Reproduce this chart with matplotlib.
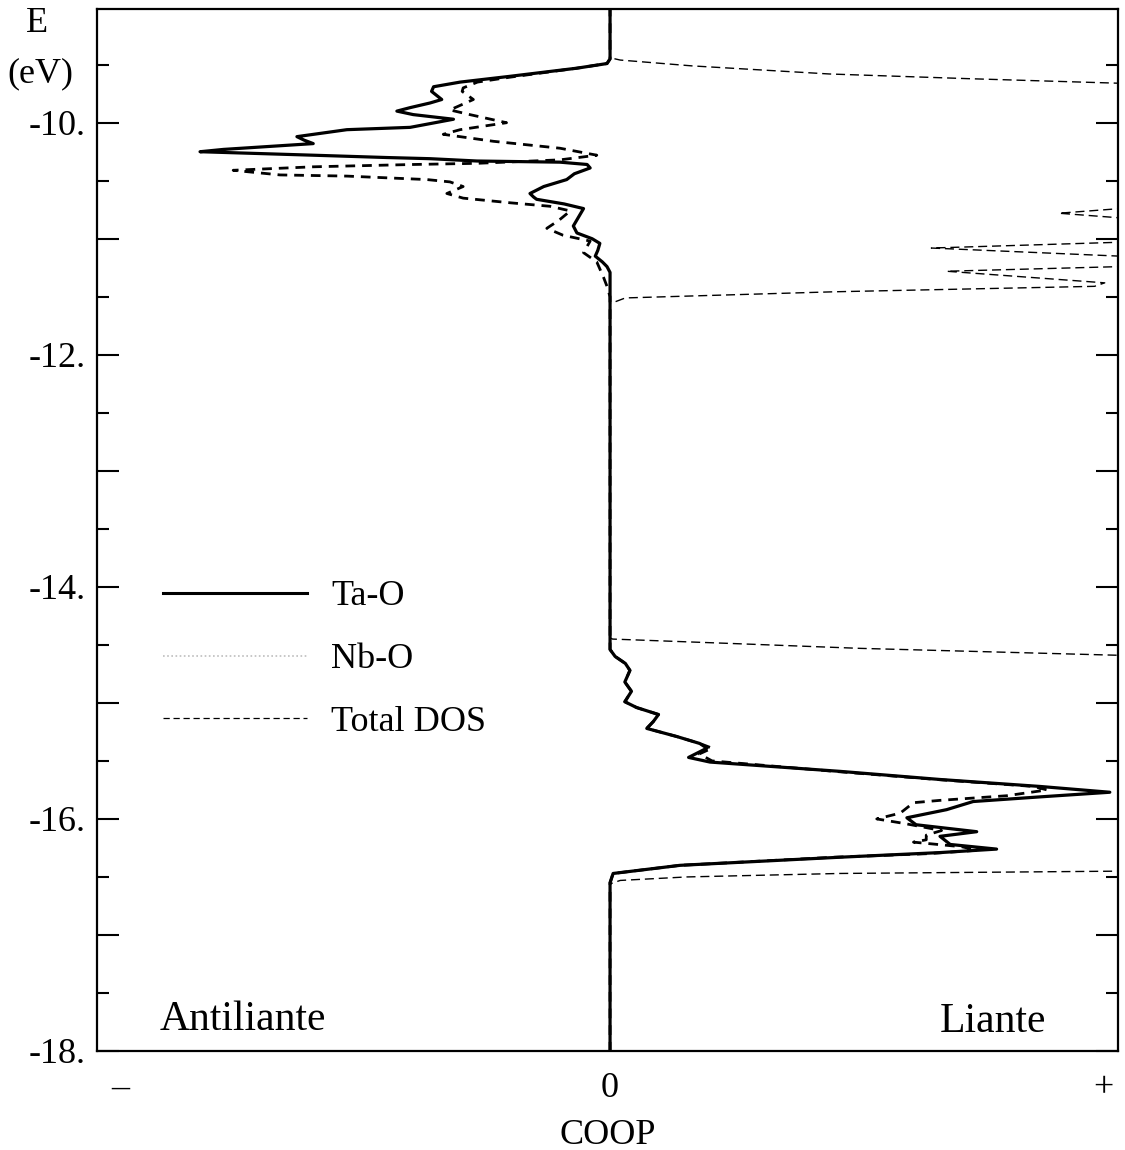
import matplotlib
matplotlib.use("Agg")
import matplotlib.pyplot as plt
from matplotlib.lines import Line2D
from matplotlib.ticker import FixedLocator

plt.rcParams['font.family'] = ['Liberation Serif', 'DejaVu Serif']

# ---------------- data ----------------
# Ta-O COOP: energy (eV) and COOP value (arbitrary units, - antibonding / + bonding)
ta_E = [-9.00, -9.45, -9.49, -9.53, -9.60, -9.65, -9.69, -9.73, -9.80, -9.83, -9.87, -9.90,
        -9.93, -9.97, -10.04, -10.06, -10.12, -10.15, -10.18, -10.23, -10.25, -10.28, -10.30,
        -10.31, -10.33, -10.34, -10.36, -10.39, -10.44, -10.49, -10.55, -10.61, -10.64, -10.66,
        -10.70, -10.74, -10.80, -10.89, -10.95, -11.00, -11.04, -11.10, -11.15, -11.20, -11.24,
        -11.29, -14.54, -14.60, -14.66, -14.72, -14.82, -14.90, -14.99, -15.04, -15.10, -15.16,
        -15.22, -15.29, -15.35, -15.39, -15.47, -15.51, -15.59, -15.66, -15.72, -15.77, -15.81,
        -15.85, -15.92, -15.99, -16.05, -16.11, -16.15, -16.22, -16.26, -16.29, -16.33, -16.40,
        -16.47, -16.55, -18.00]
ta_coop = [0.0, 0.0, -0.006, -0.065, -0.196, -0.294, -0.346, -0.350, -0.330, -0.353, -0.392, -0.418,
           -0.386, -0.307, -0.392, -0.516, -0.614, -0.600, -0.582, -0.758, -0.804, -0.582, -0.438,
           -0.353, -0.261, -0.098, -0.045, -0.039, -0.070, -0.085, -0.130, -0.157, -0.150, -0.144,
           -0.090, -0.052, -0.060, -0.072, -0.065, -0.035, -0.020, -0.024, -0.029, -0.015, -0.006,
           0.0, 0.0, 0.010, 0.030, 0.039, 0.029, 0.042, 0.029, 0.052, 0.095, 0.085,
           0.072, 0.131, 0.176, 0.190, 0.154, 0.196, 0.451, 0.647, 0.843, 0.980, 0.843,
           0.712, 0.660, 0.582, 0.600, 0.719, 0.647, 0.667, 0.758, 0.647, 0.451, 0.137,
           0.006, 0.0, 0.0]

# Nb-O COOP
nb_E = [-9.00, -9.45, -9.49, -9.53, -9.61, -9.65, -9.70, -9.73, -9.80, -9.89, -9.93, -10.00,
        -10.06, -10.10, -10.16, -10.22, -10.28, -10.32, -10.35, -10.36, -10.38, -10.41, -10.45,
        -10.46, -10.49, -10.51, -10.55, -10.61, -10.65, -10.69, -10.72, -10.76, -10.84, -10.91,
        -10.97, -11.02, -11.12, -11.20, -11.33, -11.41, -11.50, -14.54, -14.60, -14.66, -14.72,
        -14.82, -14.90, -14.99, -15.04, -15.10, -15.16, -15.22, -15.29, -15.35, -15.39, -15.44,
        -15.50, -15.59, -15.66, -15.72, -15.75, -15.80, -15.84, -15.86, -15.95, -16.00, -16.04,
        -16.10, -16.14, -16.18, -16.20, -16.24, -16.27, -16.30, -16.33, -16.40, -16.47, -16.55,
        -18.00]
nb_coop = [0.0, 0.0, -0.006, -0.065, -0.200, -0.260, -0.288, -0.290, -0.268, -0.314, -0.275, -0.203,
           -0.294, -0.327, -0.229, -0.098, -0.026, -0.098, -0.261, -0.386, -0.582, -0.739, -0.647,
           -0.516, -0.359, -0.314, -0.288, -0.320, -0.288, -0.196, -0.118, -0.078, -0.100, -0.124,
           -0.092, -0.039, -0.052, -0.026, -0.013, -0.006, 0.0, 0.0, 0.010, 0.030, 0.039,
           0.029, 0.042, 0.029, 0.052, 0.095, 0.085, 0.072, 0.131, 0.176, 0.200, 0.175,
           0.200, 0.440, 0.640, 0.830, 0.857, 0.778, 0.647, 0.595, 0.569, 0.523, 0.578,
           0.650, 0.620, 0.620, 0.595, 0.690, 0.720, 0.620, 0.440, 0.137, 0.006, 0.0,
           0.0]

# Total DOS (same horizontal scale, runs off the right edge of the frame)
dos_E = [-9.00, -9.44, -9.46, -9.51, -9.58, -9.62, -9.66, -9.72, -10.70, -10.74, -10.78, -10.82,
         -10.86, -11.00, -11.03, -11.08, -11.15, -11.20, -11.24, -11.28, -11.38, -11.41, -11.457,
         -11.51, -11.56, -14.44, -14.45, -14.49, -14.53, -14.59, -14.65, -16.40, -16.45, -16.47,
         -16.50, -16.53, -16.56, -18.00]
dos_val = [0.0, 0.0, 0.02, 0.16, 0.43, 0.70, 1.00, 1.60, 1.60, 1.00, 0.88, 1.00,
           1.50, 1.50, 1.00, 0.63, 1.00, 1.40, 1.00, 0.66, 0.97, 0.95, 0.44,
           0.03, 0.0, 0.0, 0.005, 0.25, 0.49, 1.00, 1.60, 1.60, 1.00, 0.45,
           0.15, 0.02, 0.0, 0.0]

y_major = [-18, -17, -16, -15, -14, -13, -12, -11, -10]
y_labels = ['-18.', '', '-16.', '', '-14.', '', '-12.', '', '-10.']
y_minor = [-17.5, -16.5, -15.5, -14.5, -13.5, -12.5, -11.5, -10.5, -9.5]
x_ticks = [-0.961, 0.0, 0.967]
x_labels = ['\u2013', '0', '+']
legend_labels = ['Ta-O', 'Nb-O', 'Total DOS']

# ---------------- figure ----------------
fig = plt.figure(figsize=(11.25, 11.5), dpi=100)
ax = fig.add_axes([97 / 1125, 1 - 1051 / 1150, (1118 - 97) / 1125, (1051 - 9) / 1150])

ax.plot(dos_val, dos_E, color='black', lw=1.0, dashes=(6.5, 3.5))
ax.plot(nb_coop, nb_E, color='black', lw=2.0, dashes=(3.5, 2.5))
ax.plot(ta_coop, ta_E, color='black', lw=2.3, solid_joinstyle='round')

ax.set_xlim(-1.006, 0.996)
ax.set_ylim(-18.0, -9.02)

for s in ax.spines.values():
    s.set_linewidth(1.6)

ax.yaxis.set_major_locator(FixedLocator(y_major))
ax.set_yticklabels(y_labels)
ax.yaxis.set_minor_locator(FixedLocator(y_minor))
ax.tick_params(axis='y', which='major', direction='in', length=16, width=1.5,
               left=True, right=True, labelsize=26, pad=8)
ax.tick_params(axis='y', which='minor', direction='in', length=8.5, width=1.5,
               left=True, right=True)

ax.set_xticks(x_ticks)
ax.set_xticklabels(x_labels)
ax.tick_params(axis='x', which='both', length=0, labelsize=26, pad=15)
ax.set_xlabel('COOP', fontsize=26, labelpad=10)

fig.text(37 / 1125, 1 - 24 / 1150, 'E', fontsize=26, ha='center', va='center')
fig.text(40 / 1125, 1 - 74 / 1150, '(eV)', fontsize=26, ha='center', va='center')

ax.text((160 - 97) / 1021, (1051 - 1030) / 1042, 'Antiliante', transform=ax.transAxes,
        fontsize=30, ha='left', va='baseline')
ax.text((1046 - 97) / 1021, (1051 - 1032) / 1042, 'Liante', transform=ax.transAxes,
        fontsize=30, ha='right', va='baseline')

handles = [Line2D([], [], color='black', lw=2.2),
           Line2D([], [], color='#bdbdbd', lw=1.2, linestyle=(0, (1, 1.5))),
           Line2D([], [], color='black', lw=0.9, dashes=(5, 3))]
ax.legend(handles, legend_labels, loc='upper left',
          bbox_to_anchor=((163 - 97) / 1021, (1051 - 580) / 1042),
          frameon=False, fontsize=26, handlelength=4.0, handletextpad=0.65,
          labelspacing=0.82, borderpad=0, borderaxespad=0)

fig.savefig('out.png', dpi=100)
